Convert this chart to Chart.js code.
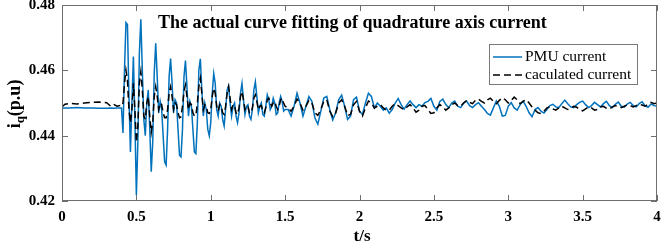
<!DOCTYPE html>
<html>
<head>
<meta charset="utf-8">
<script src="https://cdn.jsdelivr.net/npm/chart.js@4"></script>
<style>
  html, body { margin: 0; padding: 0; background: #fff; }
  #wrap { width: 661px; height: 246px; }
</style>
</head>
<body>
<div id="wrap"><canvas id="iqChart" width="661" height="246"></canvas></div>
<script>
// sample instants (s): pre-fault points, then 0.01 s from 0.40 to 1.50, then 0.02 s to 4.00
const preTimes = [0, 0.02, 0.05, 0.1, 0.15, 0.2, 0.25, 0.3, 0.33, 0.35, 0.37, 0.39];
const times = preTimes.slice();
for (let i = 0; i <= 110; i++) times.push(+(0.40 + i * 0.01).toFixed(2));
for (let i = 1; i <= 125; i++) times.push(+(1.50 + i * 0.02).toFixed(2));

// PMU measured quadrature axis current (p.u)
const pmuCurrent = [
  0.4484, 0.4485, 0.4485, 0.4486, 0.4485, 0.4485, 0.4484, 0.4484, 0.4485, 0.4484, 0.4485, 0.4485,
  0.4485, 0.4408, 0.4600, 0.4746, 0.4740, 0.4520, 0.4350, 0.4500, 0.4642, 0.4450,
  0.4218, 0.4380, 0.4650, 0.4756, 0.4600, 0.4450, 0.4400, 0.4500, 0.4540, 0.4420,
  0.4290, 0.4380, 0.4590, 0.4683, 0.4580, 0.4470, 0.4505, 0.4480, 0.4400, 0.4320,
  0.4310, 0.4420, 0.4580, 0.4636, 0.4560, 0.4470, 0.4510, 0.4500, 0.4420, 0.4340,
  0.4335, 0.4420, 0.4580, 0.4630, 0.4550, 0.4460, 0.4505, 0.4490, 0.4420, 0.4350,
  0.4345, 0.4440, 0.4600, 0.4635, 0.4540, 0.4460, 0.4500, 0.4480, 0.4420, 0.4400,
  0.4440, 0.4530, 0.4590, 0.4560, 0.4480, 0.4460, 0.4500, 0.4490, 0.4450, 0.4430,
  0.4480, 0.4540, 0.4552, 0.4500, 0.4460, 0.4490, 0.4500, 0.4460, 0.4440, 0.4470,
  0.4530, 0.4560, 0.4510, 0.4465, 0.4490, 0.4495, 0.4460, 0.4450, 0.4480, 0.4540,
  0.4565, 0.4520, 0.4470, 0.4490, 0.4500, 0.4465, 0.4460, 0.4490, 0.4525, 0.4510,
  0.4480, 0.4490, 0.4515, 0.4500, 0.4465, 0.4470, 0.4500, 0.4520, 0.4505, 0.4475,
  0.4480,
  0.4480, 0.4460, 0.4490, 0.4530, 0.4500, 0.4460, 0.4490, 0.4520, 0.4505, 0.4455,
  0.4435, 0.4475, 0.4515, 0.4520, 0.4480, 0.4448, 0.4470, 0.4510, 0.4524, 0.4490,
  0.4450, 0.4460, 0.4510, 0.4518, 0.4475, 0.4465, 0.4500, 0.4530, 0.4520, 0.4485,
  0.4500, 0.4490, 0.4478, 0.4485, 0.4469, 0.4480, 0.4500, 0.4514, 0.4495, 0.4481,
  0.4495, 0.4506, 0.4495, 0.4486, 0.4495, 0.4490, 0.4501, 0.4505, 0.4514, 0.4490,
  0.4478, 0.4505, 0.4512, 0.4495, 0.4486, 0.4500, 0.4506, 0.4490, 0.4486, 0.4500,
  0.4506, 0.4492, 0.4486, 0.4495, 0.4501, 0.4490, 0.4480, 0.4468, 0.4463, 0.4485,
  0.4506, 0.4490, 0.4460, 0.4462, 0.4490, 0.4501, 0.4485, 0.4478, 0.4495, 0.4506,
  0.4490, 0.4470, 0.4458, 0.4480, 0.4486, 0.4475, 0.4469, 0.4480, 0.4492, 0.4496,
  0.4488, 0.4486, 0.4498, 0.4509, 0.4498, 0.4488, 0.4486, 0.4495, 0.4502, 0.4506,
  0.4495, 0.4486, 0.4492, 0.4502, 0.4495, 0.4488, 0.4498, 0.4505, 0.4492, 0.4486,
  0.4496, 0.4503, 0.4490, 0.4487, 0.4497, 0.4502, 0.4492, 0.4488, 0.4498, 0.4504,
  0.4492, 0.4487, 0.4497, 0.4492, 0.4490
];

// calculated (fitted) current (p.u)
const calcCurrent = [
  0.4488, 0.4496, 0.4499, 0.4497, 0.4500, 0.4502, 0.4503, 0.4501, 0.4489, 0.4495, 0.4490, 0.4492,
  0.4490, 0.4500, 0.4560, 0.4601, 0.4570, 0.4480, 0.4440, 0.4480, 0.4560, 0.4480,
  0.4380, 0.4430, 0.4560, 0.4596, 0.4540, 0.4460, 0.4450, 0.4500, 0.4520, 0.4460,
  0.4410, 0.4440, 0.4520, 0.4550, 0.4520, 0.4480, 0.4500, 0.4495, 0.4470, 0.4455,
  0.4455, 0.4480, 0.4530, 0.4550, 0.4520, 0.4480, 0.4500, 0.4495, 0.4470, 0.4455,
  0.4458, 0.4490, 0.4535, 0.4555, 0.4520, 0.4480, 0.4500, 0.4495, 0.4470, 0.4460,
  0.4462, 0.4500, 0.4550, 0.4576, 0.4530, 0.4480, 0.4495, 0.4490, 0.4470, 0.4468,
  0.4480, 0.4520, 0.4545, 0.4530, 0.4490, 0.4475, 0.4495, 0.4490, 0.4470, 0.4465,
  0.4490, 0.4530, 0.4550, 0.4515, 0.4480, 0.4495, 0.4492, 0.4470, 0.4465, 0.4485,
  0.4520, 0.4535, 0.4510, 0.4480, 0.4490, 0.4490, 0.4470, 0.4468, 0.4485, 0.4515,
  0.4525, 0.4505, 0.4480, 0.4490, 0.4492, 0.4475, 0.4470, 0.4485, 0.4510, 0.4515,
  0.4500, 0.4490, 0.4500, 0.4505, 0.4490, 0.4480, 0.4490, 0.4510, 0.4515, 0.4500,
  0.4490,
  0.4485, 0.4475, 0.4490, 0.4512, 0.4500, 0.4478, 0.4490, 0.4508, 0.4500, 0.4470,
  0.4462, 0.4480, 0.4505, 0.4510, 0.4475, 0.4458, 0.4470, 0.4500, 0.4510, 0.4490,
  0.4462, 0.4465, 0.4495, 0.4505, 0.4475, 0.4460, 0.4485, 0.4506, 0.4500, 0.4485,
  0.4490, 0.4495, 0.4485, 0.4478, 0.4478, 0.4490, 0.4498, 0.4492, 0.4485, 0.4480,
  0.4488, 0.4495, 0.4485, 0.4472, 0.4478, 0.4490, 0.4492, 0.4480, 0.4468, 0.4470,
  0.4485, 0.4495, 0.4488, 0.4478, 0.4485, 0.4495, 0.4500, 0.4492, 0.4490, 0.4500,
  0.4508, 0.4502, 0.4498, 0.4508, 0.4512, 0.4505, 0.4500, 0.4510, 0.4515, 0.4505,
  0.4498, 0.4508, 0.4516, 0.4510, 0.4500, 0.4508, 0.4518, 0.4510, 0.4498, 0.4505,
  0.4510, 0.4500, 0.4488, 0.4478, 0.4470, 0.4468, 0.4475, 0.4485, 0.4488, 0.4482,
  0.4478, 0.4485, 0.4490, 0.4485, 0.4480, 0.4484, 0.4490, 0.4487, 0.4480, 0.4476,
  0.4482, 0.4488, 0.4485, 0.4478, 0.4480, 0.4488, 0.4490, 0.4484, 0.4482, 0.4488,
  0.4492, 0.4490, 0.4486, 0.4490, 0.4494, 0.4492, 0.4488, 0.4492, 0.4496, 0.4494,
  0.4490, 0.4496, 0.4502, 0.4498, 0.4500
];

const xTicks = [0, 0.5, 1, 1.5, 2, 2.5, 3, 3.5, 4];
const yTicks = [0.42, 0.44, 0.46, 0.48];
const seriesNames = ["PMU current", "caculated current"];
const chartTitle = "The actual curve fitting of quadrature axis current";

const SERIF = "'Liberation Serif', 'Times New Roman', serif";
const BLUE = "#0072bd";
const FRAME = "#6e6e6e";

// MATLAB-style box, inward ticks, title, axis labels and legend
const matlabFrame = {
  id: "matlabFrame",
  afterDraw(chart) {
    const ctx = chart.ctx;
    const { left, right, top, bottom } = chart.chartArea;
    const xs = chart.scales.x, ys = chart.scales.y;
    ctx.save();
    ctx.strokeStyle = FRAME;
    ctx.lineWidth = 1;
    ctx.strokeRect(left + 0.5, top + 0.5, right - left - 1, bottom - top - 1);
    ctx.beginPath();
    xTicks.forEach((v) => {
      const px = Math.round(xs.getPixelForValue(v)) + 0.5;
      ctx.moveTo(px, bottom); ctx.lineTo(px, bottom - 6);
      ctx.moveTo(px, top); ctx.lineTo(px, top + 6);
    });
    yTicks.forEach((v) => {
      const py = Math.round(ys.getPixelForValue(v)) + 0.5;
      ctx.moveTo(left, py); ctx.lineTo(left + 6, py);
      ctx.moveTo(right, py); ctx.lineTo(right - 6, py);
    });
    ctx.stroke();

    // title inside the axes
    ctx.fillStyle = "#000";
    ctx.font = "bold 18px " + SERIF;
    ctx.textAlign = "left";
    ctx.textBaseline = "middle";
    ctx.fillText(chartTitle, 158, 23);

    // x label
    ctx.textAlign = "center";
    ctx.font = "bold 17px " + SERIF;
    ctx.fillText("t/s", 362, 237);

    // y label: i_q(p.u), rotated
    ctx.save();
    ctx.translate(15, 104);
    ctx.rotate(-Math.PI / 2);
    ctx.textAlign = "left";
    ctx.font = "bold 18px " + SERIF;
    const wI = ctx.measureText("i").width;
    ctx.font = "bold 13px " + SERIF;
    const wQ = ctx.measureText("q").width;
    ctx.font = "bold 18px " + SERIF;
    const wP = ctx.measureText("(p.u)").width;
    const x0 = -(wI + wQ + wP) / 2;
    ctx.fillText("i", x0, 0);
    ctx.font = "bold 13px " + SERIF;
    ctx.fillText("q", x0 + wI, 6);
    ctx.font = "bold 18px " + SERIF;
    ctx.fillText("(p.u)", x0 + wI + wQ, 0);
    ctx.restore();

    // legend
    const lx = 489, ly = 44, lw = 148, lh = 40;
    ctx.fillStyle = "#fff";
    ctx.fillRect(lx, ly, lw, lh);
    ctx.strokeStyle = "#7a7a7a";
    ctx.strokeRect(lx + 0.5, ly + 0.5, lw, lh);
    ctx.lineWidth = 1.5;
    ctx.strokeStyle = BLUE;
    ctx.beginPath(); ctx.moveTo(493, 57); ctx.lineTo(522, 57); ctx.stroke();
    ctx.strokeStyle = "#000";
    ctx.setLineDash([7, 4]);
    ctx.beginPath(); ctx.moveTo(493, 75); ctx.lineTo(522, 75); ctx.stroke();
    ctx.setLineDash([]);
    ctx.fillStyle = "#000";
    ctx.font = "15.5px " + SERIF;
    ctx.textAlign = "left";
    ctx.fillText(seriesNames[0], 525, 57);
    ctx.fillText(seriesNames[1], 525, 75);
    ctx.restore();
  }
};

const tickFont = { family: SERIF, size: 15, weight: "bold" };

new Chart(document.getElementById("iqChart"), {
  type: "line",
  data: {
    datasets: [
      {
        label: seriesNames[0],
        data: times.map((t, i) => ({ x: t, y: pmuCurrent[i] })),
        borderColor: BLUE,
        borderWidth: 1.5,
        pointRadius: 0,
        tension: 0,
        order: 2,
      },
      {
        label: seriesNames[1],
        data: times.map((t, i) => ({ x: t, y: calcCurrent[i] })),
        borderColor: "#000",
        borderWidth: 1.5,
        borderDash: [7, 4],
        pointRadius: 0,
        tension: 0,
        order: 1,
      },
    ],
  },
  options: {
    responsive: false,
    animation: false,
    events: [],
    layout: { padding: { left: 0, right: 4, top: 5, bottom: 0 } },
    plugins: { legend: { display: false }, tooltip: { enabled: false } },
    scales: {
      x: {
        type: "linear",
        min: 0,
        max: 4,
        grid: { display: false, drawTicks: false },
        border: { display: false },
        afterBuildTicks: (s) => { s.ticks = xTicks.map((v) => ({ value: v })); },
        afterFit: (s) => { s.height = 45; s.paddingLeft = 0; s.paddingRight = 0; },
        ticks: {
          color: "#000",
          font: tickFont,
          padding: 7,
          maxRotation: 0,
          autoSkip: false,
          callback: (v) => String(v),
        },
      },
      y: {
        type: "linear",
        min: 0.42,
        max: 0.48,
        grid: { display: false, drawTicks: false },
        border: { display: false },
        afterBuildTicks: (s) => { s.ticks = yTicks.map((v) => ({ value: v })); },
        afterFit: (s) => { s.width = 62; s.paddingTop = 0; s.paddingBottom = 0; },
        ticks: {
          color: "#000",
          font: tickFont,
          padding: 7,
          callback: (v) => v.toFixed(2),
        },
      },
    },
  },
  plugins: [matlabFrame],
});
</script>
</body>
</html>
